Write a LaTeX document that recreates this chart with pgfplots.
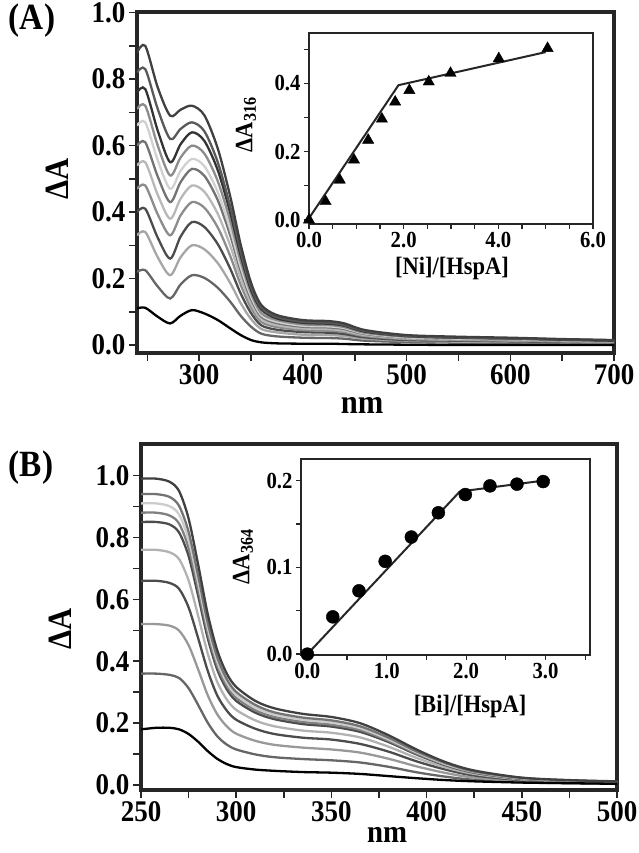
\documentclass[border=0pt]{standalone}
\usepackage{fontspec}
\setmainfont{Liberation Serif}[FakeStretch=0.9]
\usepackage{pgfplots}
\usepackage{pgfplotstable}
\pgfplotsset{compat=1.18}

% panel A: difference spectra, Ni titration
\pgfplotstableread{
nm   c1    c2    c3    c4    c5    c6    c7    c8    c9    c10   c11   c12
240  0.880 0.820 0.760 0.710 0.660 0.600 0.540 0.470 0.400 0.330 0.220 0.110
248  0.900 0.830 0.770 0.720 0.670 0.610 0.550 0.480 0.410 0.340 0.225 0.112
260  0.775 0.710 0.645 0.600 0.556 0.507 0.452 0.393 0.323 0.264 0.176 0.085
272  0.690 0.620 0.550 0.510 0.470 0.430 0.380 0.330 0.260 0.210 0.140 0.065
282  0.708 0.650 0.604 0.564 0.524 0.490 0.440 0.390 0.326 0.264 0.182 0.088
293  0.720 0.670 0.640 0.600 0.560 0.530 0.480 0.430 0.370 0.300 0.210 0.105
305  0.691 0.643 0.614 0.576 0.538 0.509 0.461 0.413 0.355 0.288 0.202 0.095
318  0.590 0.549 0.525 0.492 0.459 0.435 0.394 0.353 0.303 0.246 0.172 0.075
330  0.446 0.415 0.397 0.372 0.347 0.329 0.298 0.267 0.229 0.186 0.130 0.050
340  0.302 0.281 0.269 0.252 0.235 0.223 0.202 0.181 0.155 0.126 0.088 0.030
350  0.187 0.174 0.166 0.156 0.146 0.138 0.125 0.112 0.096 0.078 0.055 0.015
360  0.120 0.112 0.107 0.096 0.090 0.085 0.077 0.069 0.059 0.048 0.034 0.008
375  0.090 0.084 0.080 0.075 0.070 0.066 0.060 0.054 0.046 0.038 0.026 0.005
400  0.075 0.070 0.067 0.062 0.058 0.055 0.050 0.045 0.039 0.031 0.022 0.004
425  0.072 0.067 0.064 0.060 0.056 0.053 0.048 0.043 0.037 0.030 0.021 0.004
440  0.065 0.060 0.058 0.054 0.051 0.048 0.043 0.039 0.033 0.027 0.019 0.003
460  0.045 0.042 0.040 0.037 0.035 0.033 0.030 0.027 0.023 0.019 0.013 0.002
500  0.030 0.028 0.027 0.025 0.023 0.022 0.020 0.018 0.015 0.013 0.009 0.001
550  0.025 0.023 0.022 0.021 0.019 0.018 0.017 0.015 0.013 0.010 0.007 0.000
600  0.022 0.020 0.020 0.018 0.017 0.016 0.015 0.013 0.011 0.009 0.006 0.000
650  0.018 0.017 0.016 0.015 0.014 0.013 0.012 0.011 0.009 0.008 0.005 0.000
700  0.015 0.014 0.013 0.012 0.012 0.011 0.010 0.009 0.008 0.006 0.004 0.000
}\specA

% panel B: difference spectra, Bi titration
\pgfplotstableread{
nm   c1    c2    c3    c4    c5    c6    c7    c8    c9    c10
250  0.990 0.940 0.910 0.880 0.850 0.760 0.660 0.520 0.360 0.180
258  0.990 0.940 0.910 0.880 0.850 0.760 0.660 0.520 0.360 0.185
265  0.980 0.931 0.901 0.871 0.842 0.752 0.653 0.515 0.356 0.185
270  0.950 0.902 0.874 0.845 0.816 0.730 0.634 0.499 0.346 0.180
275  0.861 0.818 0.792 0.766 0.740 0.661 0.574 0.452 0.313 0.165
280  0.713 0.677 0.655 0.634 0.612 0.547 0.475 0.374 0.259 0.140
285  0.554 0.526 0.510 0.493 0.476 0.426 0.370 0.291 0.202 0.110
290  0.436 0.414 0.400 0.387 0.374 0.334 0.290 0.229 0.158 0.085
295  0.361 0.343 0.332 0.321 0.310 0.277 0.241 0.190 0.131 0.068
300  0.317 0.301 0.291 0.282 0.272 0.243 0.211 0.166 0.115 0.058
310  0.272 0.259 0.250 0.242 0.234 0.209 0.182 0.143 0.099 0.050
320  0.248 0.235 0.228 0.220 0.213 0.190 0.165 0.130 0.090 0.046
335  0.230 0.218 0.211 0.204 0.197 0.176 0.153 0.121 0.084 0.042
350  0.220 0.209 0.202 0.195 0.189 0.169 0.147 0.115 0.080 0.040
365  0.200 0.190 0.184 0.178 0.172 0.154 0.133 0.105 0.073 0.036
380  0.161 0.153 0.148 0.143 0.139 0.124 0.108 0.085 0.059 0.029
395  0.114 0.108 0.105 0.101 0.098 0.087 0.076 0.060 0.041 0.022
410  0.074 0.071 0.068 0.066 0.064 0.057 0.050 0.039 0.027 0.016
425  0.047 0.044 0.043 0.041 0.040 0.036 0.031 0.024 0.017 0.012
450  0.024 0.023 0.022 0.021 0.020 0.018 0.016 0.012 0.009 0.008
475  0.016 0.015 0.015 0.014 0.014 0.012 0.011 0.008 0.006 0.006
500  0.012 0.011 0.011 0.011 0.010 0.009 0.008 0.006 0.004 0.004
}\specB

\pgfplotsset{
  panel/.style={
    scale only axis, anchor=south west,
    axis line style={line width=3.5pt, black!85},
    tick style={line width=1.6pt, black!85},
    tick align=outside, xtick pos=left, ytick pos=left,
    major tick length=8pt, minor tick length=8pt,
    ticklabel style={font=\fontsize{30}{31}\selectfont\bfseries},
    every axis plot/.append style={line width=2.3pt, no marks, smooth, tension=0.5},
  },
  inset/.style={
    scale only axis, anchor=south west,
    axis background/.style={fill=white},
    axis line style={line width=2.6pt, black!85},
    tick style={line width=1.3pt, black!85},
    tick align=outside, xtick pos=left, ytick pos=left,
    major tick length=5pt, minor tick length=5pt,
    ticklabel style={font=\fontsize{23}{24}\selectfont\bfseries},
  },
}

\begin{document}
\begin{tikzpicture}
\useasboundingbox (0,0) rectangle (638pt,-853pt);

% ---------- panel A ----------
\begin{axis}[panel, at={(137pt,-353pt)}, width=477pt, height=341pt,
  xmin=240, xmax=700, ymin=-0.024, ymax=1.002,
  xtick={300,400,500,600,700}, xticklabels={300,400,500,600,700},
  minor xtick={250,350,450,550,650},
  ytick={0,0.2,0.4,0.6,0.8,1.0}, yticklabels={0.0,0.2,0.4,0.6,0.8,1.0},
  minor ytick={0.1,0.3,0.5,0.7,0.9}]
  \addplot[black!60] table[x=nm,y=c11] {\specA};
  \addplot[black!35] table[x=nm,y=c10] {\specA};
  \addplot[black!70] table[x=nm,y=c9] {\specA};
  \addplot[black!45] table[x=nm,y=c8] {\specA};
  \addplot[black!28] table[x=nm,y=c7] {\specA};
  \addplot[black!55] table[x=nm,y=c6] {\specA};
  \addplot[black!18] table[x=nm,y=c5] {\specA};
  \addplot[black!45] table[x=nm,y=c4] {\specA};
  \addplot[black!80] table[x=nm,y=c3] {\specA};
  \addplot[black!65] table[x=nm,y=c2] {\specA};
  \addplot[black!75] table[x=nm,y=c1] {\specA};
  \addplot[black] table[x=nm,y=c12] {\specA};
\end{axis}

\begin{axis}[inset, at={(309pt,-224pt)}, width=284pt, height=191pt,
  xmin=0, xmax=6, ymin=-0.012, ymax=0.548,
  xtick={0,2,4,6}, xticklabels={0.0,2.0,4.0,6.0}, minor xtick={0.5,1,...,5.5},
  ytick={0,0.2,0.4}, yticklabels={0.0,0.2,0.4}, minor ytick={0.1,0.3,0.5},
  clip=false]
  \addplot[black!85, line width=2pt, no marks] coordinates {(0,0.005) (1.89,0.395) (5.0,0.492)};
  \addplot[only marks, mark=triangle*, mark size=6.5pt, black] coordinates {
    (0,0.0) (0.35,0.054) (0.65,0.117) (0.95,0.176) (1.25,0.234) (1.54,0.296)
    (1.82,0.346) (2.12,0.38) (2.53,0.405) (2.99,0.43) (4.01,0.473) (5.04,0.503)};
\end{axis}

% ---------- panel B ----------
\begin{axis}[panel, at={(141pt,-790pt)}, width=476pt, height=346pt,
  xmin=250, xmax=500, ymin=-0.016, ymax=1.102,
  xtick={250,300,350,400,450,500}, xticklabels={250,300,350,400,450,500},
  minor xtick={275,325,375,425,475},
  ytick={0,0.2,0.4,0.6,0.8,1.0}, yticklabels={0.0,0.2,0.4,0.6,0.8,1.0},
  minor ytick={0.1,0.3,0.5,0.7,0.9}]
  \addplot[black!60] table[x=nm,y=c9] {\specB};
  \addplot[black!40] table[x=nm,y=c8] {\specB};
  \addplot[black!70] table[x=nm,y=c7] {\specB};
  \addplot[black!30] table[x=nm,y=c6] {\specB};
  \addplot[black!70] table[x=nm,y=c5] {\specB};
  \addplot[black!50] table[x=nm,y=c4] {\specB};
  \addplot[black!20] table[x=nm,y=c3] {\specB};
  \addplot[black!55] table[x=nm,y=c2] {\specB};
  \addplot[black!75] table[x=nm,y=c1] {\specB};
  \addplot[black] table[x=nm,y=c10] {\specB};
\end{axis}

\begin{axis}[inset, at={(301pt,-655pt)}, width=289pt, height=196pt,
  xmin=-0.08, xmax=3.56, ymin=-0.001, ymax=0.225,
  xtick={0,1,2,3}, xticklabels={0.0,1.0,2.0,3.0}, minor xtick={0.5,1.5,2.5,3.5},
  ytick={0,0.1,0.2}, yticklabels={0.0,0.1,0.2}, minor ytick={0.05,0.15},
  clip=false]
  \addplot[black!85, line width=2pt, no marks] coordinates {(0,0) (1.92,0.1875) (3.05,0.201)};
  \addplot[only marks, mark=*, mark size=6.5pt, black] coordinates {
    (0,0) (0.32,0.043) (0.65,0.073) (0.98,0.107) (1.31,0.135) (1.65,0.163)
    (1.99,0.184) (2.30,0.194) (2.64,0.196) (2.97,0.199)};
\end{axis}

% ---------- labels ----------
\node[font=\fontsize{37}{37}\selectfont\bfseries] at (32pt,-21pt) {(A)};
\node[font=\fontsize{37}{37}\selectfont\bfseries] at (31pt,-468pt) {(B)};
\node[font=\fontsize{34}{34}\selectfont\bfseries, rotate=90] at (57pt,-179pt) {ΔA};
\node[font=\fontsize{34}{34}\selectfont\bfseries, rotate=90] at (60pt,-629pt) {ΔA};
\node[font=\fontsize{34}{34}\selectfont\bfseries] at (362pt,-405pt) {nm};
\node[font=\fontsize{32}{32}\selectfont\bfseries] at (387pt,-835pt) {nm};
\node[font=\fontsize{25}{25}\selectfont\bfseries] at (452pt,-268pt) {[Ni]/[HspA]};
\node[font=\fontsize{25}{25}\selectfont\bfseries] at (470pt,-706pt) {[Bi]/[HspA]};
\node[font=\fontsize{25}{25}\selectfont\bfseries, rotate=90] at (246pt,-125pt)
  {ΔA\raisebox{-0.3ex}{\fontsize{18}{18}\selectfont 316}};
\node[font=\fontsize{25}{25}\selectfont\bfseries, rotate=90] at (243pt,-557pt)
  {ΔA\raisebox{-0.3ex}{\fontsize{18}{18}\selectfont 364}};
\end{tikzpicture}
\end{document}
